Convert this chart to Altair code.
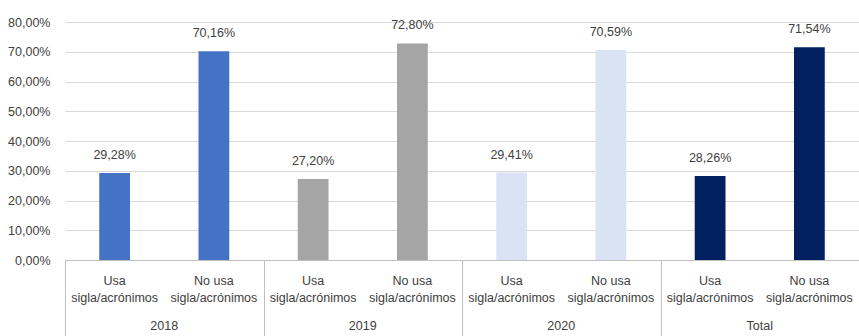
import altair as alt
import pandas as pd

# ---- data ----
years = ["2018", "2019", "2020", "Total"]
categories = ["Usa\nsigla/acrónimos", "No usa\nsigla/acrónimos"]
usa_values = [29.28, 27.20, 29.41, 28.26]
no_usa_values = [70.16, 72.80, 70.59, 71.54]
y_ticks = [0, 10, 20, 30, 40, 50, 60, 70, 80]

# ---- styles ----
year_colors = ["#4472C4", "#A5A5A5", "#DAE3F3", "#002060"]
text_color = "#404040"
font = "Liberation Sans"
fs = 12.5

rows = []
for i, yr in enumerate(years):
    rows.append({"year": yr, "cat": categories[0], "value": usa_values[i]})
    rows.append({"year": yr, "cat": categories[1], "value": no_usa_values[i]})
df = pd.DataFrame(rows)

W, H = 794, 238

x_enc = alt.X(
    "year:N",
    sort=years,
    scale=alt.Scale(paddingInner=0, paddingOuter=0),
    axis=alt.Axis(
        title=None, labels=False, ticks=True, tickBand="extent", tickSize=76,
        tickColor="#bfbfbf", domainColor="#bfbfbf", grid=False,
    ),
)
xoff_enc = alt.XOffset(
    "cat:N", sort=categories,
    scale=alt.Scale(paddingInner=0.69, paddingOuter=0.345),
)
y_enc = alt.Y(
    "value:Q",
    scale=alt.Scale(domain=[0, 80], nice=False),
    axis=alt.Axis(
        title=None, values=y_ticks, domain=False, ticks=False,
        gridColor="#d9d9d9", labelPadding=15,
        labelExpr="replace(format(datum.value, '.2f'), '.', ',') + '%'",
    ),
)

base = alt.Chart(df)

bars = base.mark_bar().encode(
    x=x_enc, xOffset=xoff_enc, y=y_enc,
    color=alt.Color("year:N", scale=alt.Scale(domain=years, range=year_colors), legend=None),
)

value_labels = base.transform_calculate(
    lbl="replace(format(datum.value, '.2f'), '.', ',') + '%'"
).mark_text(
    dy=-18, baseline="middle", fontSize=fs, font=font, color=text_color
).encode(x=x_enc, xOffset=xoff_enc, y=y_enc, text="lbl:N")

cat_labels = base.transform_calculate(
    lines="split(datum.cat, '\\n')"
).mark_text(
    baseline="top", fontSize=fs, font=font, color=text_color, lineHeight=17
).encode(x=x_enc, xOffset=xoff_enc, y=alt.value(H + 15), text="lines:N")

year_df = pd.DataFrame({"year": years})
year_labels = alt.Chart(year_df).mark_text(
    baseline="middle", fontSize=fs, font=font, color=text_color
).encode(x=x_enc, y=alt.value(H + 66), text="year:N")

chart = alt.layer(bars, value_labels, cat_labels, year_labels).properties(
    width=W, height=H,
    autosize=alt.AutoSizeParams(type="none"),
    padding={"left": 65, "top": 22, "right": 0, "bottom": 76},
).configure_view(stroke=None).configure_axis(
    labelFont=font, labelFontSize=fs, labelColor=text_color
)

chart.save("out.html", embed_options={"renderer": "svg", "actions": False})
